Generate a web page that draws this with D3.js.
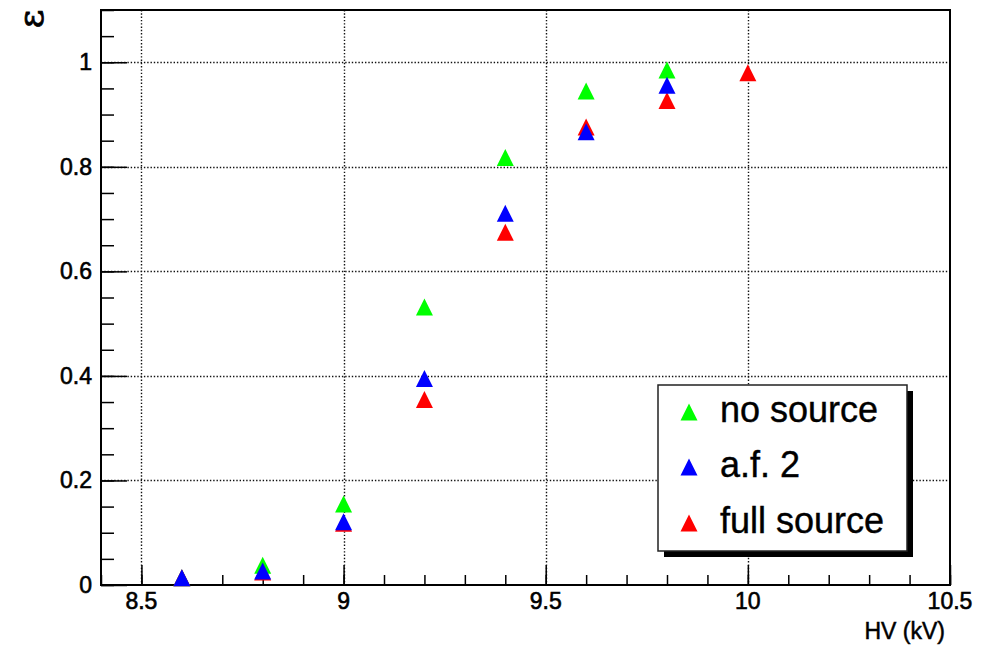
<!DOCTYPE html>
<html>
<head>
<meta charset="utf-8">
<script src="https://cdn.jsdelivr.net/npm/d3@7"></script>
<style>
  html, body { margin: 0; padding: 0; background: #fff; }
  svg { display: block; font-family: "Liberation Sans", Arial, sans-serif; }
</style>
</head>
<body>
<svg id="chart" width="993" height="646"></svg>
<script>
// High-voltage scan: efficiency vs HV for three irradiation conditions
const hvNoSource   = [8.6, 8.8, 9.0, 9.2, 9.4, 9.6, 9.8];
const effNoSource  = [0.014, 0.038, 0.155, 0.532, 0.818, 0.945, 0.985];
const hvAF2        = [8.6, 8.8, 9.0, 9.2, 9.4, 9.6, 9.8];
const effAF2       = [0.014, 0.027, 0.121, 0.395, 0.711, 0.867, 0.956];
const hvFull       = [8.6, 8.8, 9.0, 9.2, 9.4, 9.6, 9.8, 10.0];
const effFull      = [0.014, 0.025, 0.118, 0.355, 0.675, 0.876, 0.927, 0.980];

const xTicks = [8.5, 9, 9.5, 10, 10.5];
const xTickLabels = ["8.5", "9", "9.5", "10", "10.5"];
const yTicks = [0, 0.2, 0.4, 0.6, 0.8, 1];
const yTickLabels = ["0", "0.2", "0.4", "0.6", "0.8", "1"];

const seriesNames = ["no source", "a.f. 2", "full source"];
const seriesColors = ["#00ff00", "#0000ff", "#ff0000"];

const series = [
  { name: seriesNames[0], color: seriesColors[0], x: hvNoSource, y: effNoSource },
  { name: seriesNames[1], color: seriesColors[1], x: hvAF2, y: effAF2 },
  { name: seriesNames[2], color: seriesColors[2], x: hvFull, y: effFull }
];
// drawing order: green, red, blue (blue sits on top)
const drawOrder = [0, 2, 1];

const svg = d3.select("#chart");
const frame = { left: 101, right: 950, top: 10, bottom: 585 };

const x = d3.scaleLinear().domain([8.4, 10.5]).range([frame.left, frame.right]);
const y = d3.scaleLinear().domain([0, 1.1]).range([frame.bottom, frame.top]);

// dotted grid at major ticks
const grid = svg.append("g").attr("stroke", "#111").attr("stroke-width", 1.4)
  .attr("stroke-dasharray", "1.4,1.9");
grid.selectAll("line.gx").data(xTicks.filter(t => t > 8.4 && t < 10.5)).enter()
  .append("line").attr("class", "gx")
  .attr("x1", d => Math.round(x(d)) + 0.5).attr("x2", d => Math.round(x(d)) + 0.5)
  .attr("y1", frame.top).attr("y2", frame.bottom);
grid.selectAll("line.gy").data(yTicks.filter(t => t > 0)).enter()
  .append("line").attr("class", "gy")
  .attr("y1", d => Math.round(y(d)) + 0.5).attr("y2", d => Math.round(y(d)) + 0.5)
  .attr("x1", frame.left).attr("x2", frame.right);

// x axis: major ticks every 0.5, minor every 0.1
const xAxisMajor = d3.axisTop(x).tickValues(xTicks).tickSize(20).tickFormat("");
const xAxisMinor = d3.axisTop(x).tickValues(d3.range(84, 106).map(v => v / 10)).tickSize(10).tickFormat("");
[xAxisMinor, xAxisMajor].forEach(ax => {
  const g = svg.append("g").attr("transform", `translate(0,${frame.bottom})`).call(ax);
  g.select(".domain").remove();
  g.selectAll(".tick line").attr("stroke", "#000").attr("stroke-width", 1.5);
});

// y axis: major every 0.2, minor every 0.05
const yAxisMajor = d3.axisRight(y).tickValues(yTicks).tickSize(26).tickFormat("");
const yAxisMinor = d3.axisRight(y).tickValues(d3.range(0, 23).map(v => v * 0.05)).tickSize(13).tickFormat("");
[yAxisMinor, yAxisMajor].forEach(ax => {
  const g = svg.append("g").attr("transform", `translate(${frame.left},0)`).call(ax);
  g.select(".domain").remove();
  g.selectAll(".tick line").attr("stroke", "#000").attr("stroke-width", 1.5);
});

// frame
svg.append("rect")
  .attr("x", frame.left).attr("y", frame.top)
  .attr("width", frame.right - frame.left).attr("height", frame.bottom - frame.top)
  .attr("fill", "none").attr("stroke", "#000").attr("stroke-width", 2);

// tick labels
svg.append("g").selectAll("text").data(xTicks).enter().append("text")
  .attr("x", d => x(d)).attr("y", 609)
  .attr("text-anchor", "middle").attr("font-size", 23).attr("fill", "#000")
  .attr("stroke", "#000").attr("stroke-width", 0.6)
  .text((d, i) => xTickLabels[i]);
svg.append("g").selectAll("text").data(yTicks).enter().append("text")
  .attr("x", 92).attr("y", d => y(d) + 8)
  .attr("text-anchor", "end").attr("font-size", 23).attr("fill", "#000")
  .attr("stroke", "#000").attr("stroke-width", 0.6)
  .text((d, i) => yTickLabels[i]);

// axis titles
svg.append("text").attr("x", 945).attr("y", 639)
  .attr("text-anchor", "end").attr("font-size", 23).attr("fill", "#000")
  .attr("stroke", "#000").attr("stroke-width", 0.5)
  .text("HV (kV)");
svg.append("text")
  .attr("transform", "translate(43,19) rotate(-90)")
  .attr("text-anchor", "middle").attr("font-size", 36)
  .attr("font-family", "DejaVu Serif, serif").attr("fill", "#000")
  .attr("stroke", "#000").attr("stroke-width", 0.8)
  .text("ε");

// filled upward triangle centred on the point
function triPath(s) {
  return `M0,${-s}L${s},${s}L${-s},${s}Z`;
}
const markerHalf = 8.5;

const marks = svg.append("g");
drawOrder.forEach(i => {
  const s = series[i];
  marks.append("g").selectAll("path").data(s.x.map((v, k) => [v, s.y[k]])).enter()
    .append("path")
    .attr("d", triPath(markerHalf))
    .attr("transform", d => `translate(${x(d[0])},${y(d[1])})`)
    .attr("fill", s.color);
});

// legend with drop shadow
const lg = { x: 658, y: 385, w: 249, h: 166 };
svg.append("rect").attr("x", lg.x + 6).attr("y", lg.y + 6)
  .attr("width", lg.w).attr("height", lg.h).attr("fill", "#000");
svg.append("rect").attr("x", lg.x).attr("y", lg.y)
  .attr("width", lg.w).attr("height", lg.h)
  .attr("fill", "#fff").attr("stroke", "#222").attr("stroke-width", 1.5);
const rowY = [412, 467, 523];
series.forEach((s, i) => {
  svg.append("path").attr("d", triPath(markerHalf))
    .attr("transform", `translate(689,${rowY[i]})`).attr("fill", s.color);
  svg.append("text").attr("x", 720).attr("y", rowY[i] + 10)
    .attr("font-size", 36).attr("fill", "#000")
    .attr("stroke", "#000").attr("stroke-width", 0.4)
    .text(s.name);
});
</script>
</body>
</html>
